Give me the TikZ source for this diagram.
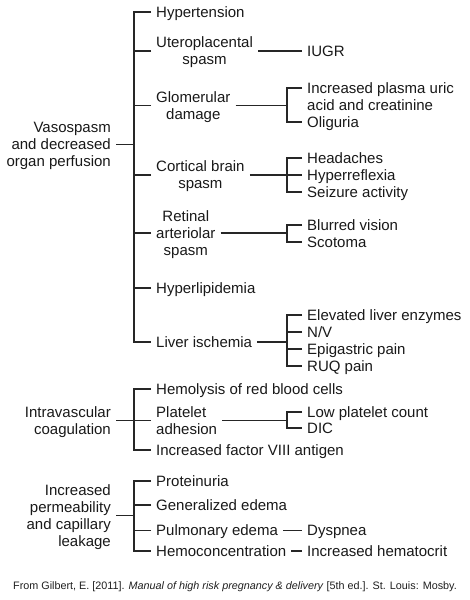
\documentclass[tikz,border=0pt]{standalone}
\usepackage{fontspec}
\setmainfont{Liberation Sans}
\newcommand\tstrut{\rule[-2.8pt]{0pt}{16.3pt}}
\begin{document}
\begin{tikzpicture}[x=1pt,y=-1pt,
  txt/.style={font=\fontsize{15}{17}\selectfont, inner xsep=5pt, inner ysep=0pt, text=black!90},
  one/.style={text height=13.5pt, text depth=2.8pt},
  lf/.style={txt, anchor=west, align=left},
  mid/.style={txt, anchor=west, align=center},
  rt/.style={txt, anchor=east, align=right},
  ln/.style={line width=1.2pt, draw=black!85}]
\fill[white] (0,0) rectangle (470,600);
\useasboundingbox (0,0) rectangle (470,600);

% ---------- group 1 ----------
\node[rt] (vaso) at (116,144.3) {\tstrut Vasospasm\\and decreased\\organ perfusion\tstrut};
\node[lf,one] (hyp) at (151,12) {Hypertension};
\node[mid] (utero) at (151,51) {\tstrut Uteroplacental\\spasm\tstrut};
\node[mid] (glom) at (151,105.5) {\tstrut Glomerular\\damage\tstrut};
\node[mid] (cort) at (151,175) {\tstrut Cortical brain\\spasm\tstrut};
\node[mid] (ret) at (151,233) {\tstrut Retinal\\arteriolar\\spasm\tstrut};
\node[lf,one] (lip) at (151,288) {Hyperlipidemia};
\node[lf,one] (liv) at (151,342) {Liver ischemia};
\coordinate (b1) at (134,342);
\draw[ln] (hyp.west) -| (b1) -- (liv.west);
\foreach \n in {utero,glom,cort,ret,lip} {\draw[ln] (\n.west) -- (\n.west -| b1);}
\draw[ln] (vaso.east) -- (vaso.east -| b1);

\coordinate (bx) at (287,0);
\node[lf,one] (iugr) at (302,51) {IUGR};
\draw[ln] (utero.east) -- (iugr.west);

\node[lf] (uric) at (302,96.5) {\tstrut Increased plasma uric\\acid and creatinine\tstrut};
\node[lf,one] (olig) at (302,122) {Oliguria};
\draw[ln] (glom.east) -- (glom.east -| bx);
\draw[ln] ([yshift=8.5pt]uric.west) -| (bx |- olig.west) -- (olig.west);

\node[lf,one] (head) at (302,158) {Headaches};
\node[lf,one] (hyr) at (302,175) {Hyperreflexia};
\node[lf,one] (seiz) at (302,192) {Seizure activity};
\draw[ln] (cort.east) -- (hyr.west);
\draw[ln] (head.west) -| (bx |- seiz.west) -- (seiz.west);

\node[lf,one] (blur) at (302,225) {Blurred vision};
\node[lf,one] (scot) at (302,242) {Scotoma};
\draw[ln] (ret.east) -- (ret.east -| bx);
\draw[ln] (blur.west) -| (bx |- scot.west) -- (scot.west);

\node[lf,one] (elev) at (302,315) {Elevated liver enzymes};
\node[lf,one] (nv) at (302,332) {N/V};
\node[lf,one] (epi) at (302,349) {Epigastric pain};
\node[lf,one] (ruq) at (302,366) {RUQ pain};
\draw[ln] (liv.east) -- (liv.east -| bx);
\draw[ln] (elev.west) -| (bx |- ruq.west) -- (ruq.west);
\draw[ln] (nv.west) -- (nv.west -| bx);
\draw[ln] (epi.west) -- (epi.west -| bx);

% ---------- group 2 ----------
\node[rt] (intra) at (116,420.5) {\tstrut Intravascular\\coagulation\tstrut};
\node[lf,one] (hemol) at (151,389) {Hemolysis of red blood cells};
\node[lf] (plat) at (151,420.5) {\tstrut Platelet\\adhesion\tstrut};
\node[lf,one] (f8) at (151,450) {Increased factor VIII antigen};
\coordinate (b2) at (134,450);
\draw[ln] (hemol.west) -| (b2) -- (f8.west);
\draw[ln] (intra.east) -- (plat.west);

\node[lf,one] (low) at (302,412) {Low platelet count};
\node[lf,one] (dic) at (302,428) {DIC};
\draw[ln] (plat.east) -- (plat.east -| bx);
\draw[ln] (low.west) -| (bx |- dic.west) -- (dic.west);

% ---------- group 3 ----------
\node[rt] (perm) at (116,515.5) {\tstrut Increased\\permeability\\and capillary\\leakage\tstrut};
\node[lf,one] (prot) at (151,481) {Proteinuria};
\node[lf,one] (gen) at (151,505) {Generalized edema};
\node[lf,one] (pulm) at (151,530.5) {Pulmonary edema};
\node[lf,one] (hemoc) at (151,551) {Hemoconcentration};
\coordinate (b3) at (134,551);
\draw[ln] (prot.west) -| (b3) -- (hemoc.west);
\draw[ln] (gen.west) -- (gen.west -| b3);
\draw[ln] (pulm.west) -- (pulm.west -| b3);
\draw[ln] (perm.east) -- (perm.east -| b3);

\node[lf,one] (dysp) at (302,530.5) {Dyspnea};
\node[lf,one] (hct) at (302,551) {Increased hematocrit};
\draw[ln] (pulm.east) -- (dysp.west);
\draw[ln] (hemoc.east) -- (hct.west);

% ---------- source ----------
\node[font=\fontsize{10.8}{13}\selectfont, text=black!88, inner sep=0pt] (src) at (235,587)
  {From Gilbert, E. [2011]. \textit{Manual of high risk pregnancy \& delivery} [5th ed.]. St. Louis: Mosby.};
\end{tikzpicture}
\end{document}
